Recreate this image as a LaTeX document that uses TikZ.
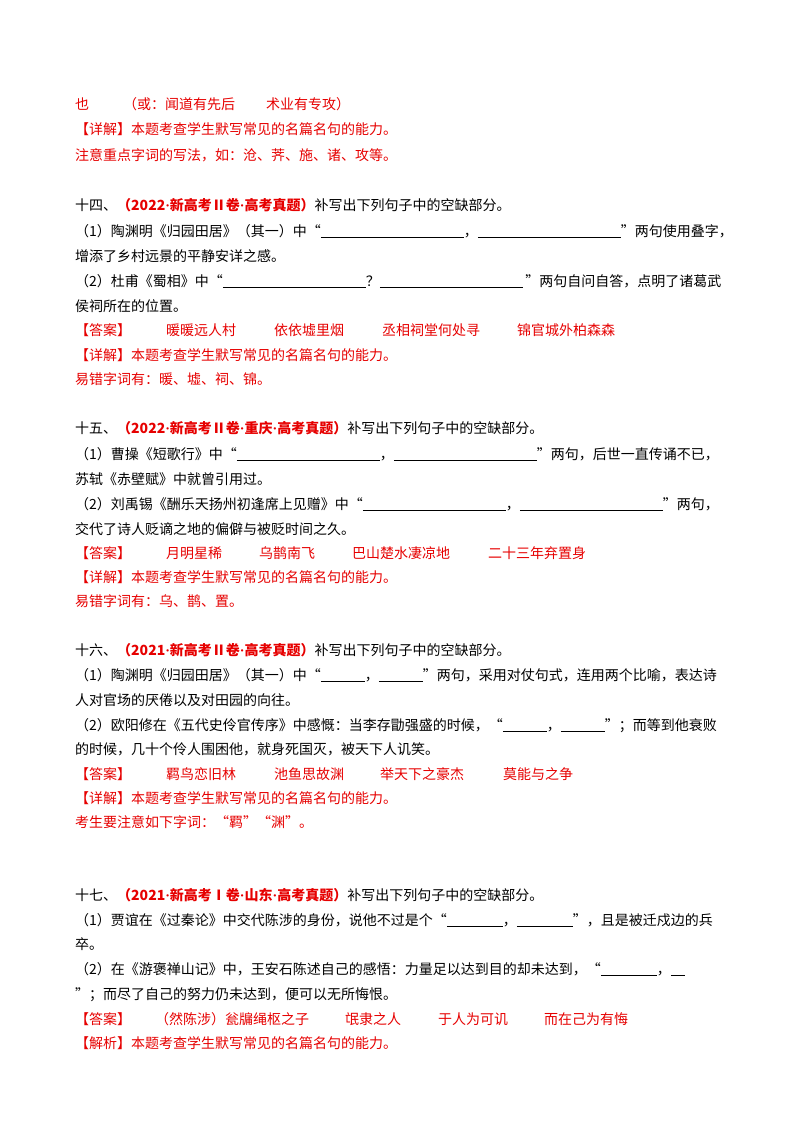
\documentclass[tikz,border=0pt]{standalone}
\usepackage{fontspec}
\setmainfont{Noto Sans CJK SC}
\newfontfamily\lat{Liberation Serif}
\definecolor{ans}{RGB}{230,0,0}
\newcommand{\bl}[1]{\underline{\hspace{#1pt}}}
\newcommand{\dt}{{\lat ·}}
\newcommand{\hd}[1]{\textcolor{ans}{\textbf{#1}}}
\begin{document}
\begin{tikzpicture}[x=1pt,y=-1pt,
  t/.style={anchor=base west,inner sep=0pt,font=\fontsize{14}{16}\selectfont},
  r/.style={t,text=ans}]
\useasboundingbox (0,0) rectangle (800,1132);
\node[r] (a1) at (75,109) {也};
\node[r] (a2) at (123,109) {（或：闻道有先后};
\node[r] (a3) at (266,109) {术业有专攻）};
\node[r] (a4) at (75,134) {【详解】本题考查学生默写常见的名篇名句的能力。};
\node[r] (a5) at (75,160) {注意重点字词的写法，如：沧、荠、施、诸、攻等。};
% 14
\node[t] (b1) at (75,210) {十四、\hd{（2022\dt 新高考Ⅱ卷\dt 高考真题）}补写出下列句子中的空缺部分。};
\node[t] (b2) at (75,236) {（1）陶渊明《归园田居》（其一）中“\bl{143}，\bl{143}”两句使用叠字，};
\node[t] (b3) at (75,261) {增添了乡村远景的平静安详之感。};
\node[t] (b4) at (75,286) {（2）杜甫《蜀相》中“\bl{143}？\bl{143}\,”两句自问自答，点明了诸葛武};
\node[t] (b5) at (75,311) {侯祠所在的位置。};
\node[r] (b6) at (75,335) {【答案】};
\node[r] (b7) at (166,335) {暖暖远人村};
\node[r] (b8) at (274,335) {依依墟里烟};
\node[r] (b9) at (382,335) {丞相祠堂何处寻};
\node[r] (b10) at (517,335) {锦官城外柏森森};
\node[r] (b11) at (75,360) {【详解】本题考查学生默写常见的名篇名句的能力。};
\node[r] (b12) at (75,384) {易错字词有：暖、墟、祠、锦。};
% 15
\node[t] (c1) at (75,433) {十五、\hd{（2022\dt 新高考Ⅱ卷\dt 重庆\dt 高考真题）}补写出下列句子中的空缺部分。};
\node[t] (c2) at (75,459) {（1）曹操《短歌行》中“\bl{143}，\bl{143}”两句，后世一直传诵不已，};
\node[t] (c3) at (75,484) {苏轼《赤壁赋》中就曾引用过。};
\node[t] (c4) at (75,509) {（2）刘禹锡《酬乐天扬州初逢席上见赠》中“\bl{143}，\bl{143}”两句，};
\node[t] (c5) at (75,534) {交代了诗人贬谪之地的偏僻与被贬时间之久。};
\node[r] (c6) at (75,558) {【答案】};
\node[r] (c7) at (166,558) {月明星稀};
\node[r] (c8) at (259,558) {乌鹊南飞};
\node[r] (c9) at (352,558) {巴山楚水凄凉地};
\node[r] (c10) at (488,558) {二十三年弃置身};
\node[r] (c11) at (75,582) {【详解】本题考查学生默写常见的名篇名句的能力。};
\node[r] (c12) at (75,606) {易错字词有：乌、鹊、置。};
% 16
\node[t] (d1) at (75,655) {十六、\hd{（2021\dt 新高考Ⅱ卷\dt 高考真题）}补写出下列句子中的空缺部分。};
\node[t] (d2) at (75,680) {（1）陶渊明《归园田居》（其一）中“\bl{44}，\bl{44}”两句，采用对仗句式，连用两个比喻，表达诗};
\node[t] (d3) at (75,705) {人对官场的厌倦以及对田园的向往。};
\node[t] (d4) at (75,730) {（2）欧阳修在《五代史伶官传序》中感慨：当李存勖强盛的时候，“\bl{44}，\bl{44}”；而等到他衰败};
\node[t] (d5) at (75,754) {的时候，几十个伶人围困他，就身死国灭，被天下人讥笑。};
\node[r] (d6) at (75,779) {【答案】};
\node[r] (d7) at (166,779) {羁鸟恋旧林};
\node[r] (d8) at (274,779) {池鱼思故渊};
\node[r] (d9) at (380,779) {举天下之豪杰};
\node[r] (d10) at (503,779) {莫能与之争};
\node[r] (d11) at (75,803) {【详解】本题考查学生默写常见的名篇名句的能力。};
\node[r] (d12) at (75,827) {考生要注意如下字词：“羁”“渊”。};
% 17
\node[t] (e1) at (75,900) {十七、\hd{（2021\dt 新高考Ⅰ卷\dt 山东\dt 高考真题）}补写出下列句子中的空缺部分。};
\node[t] (e2) at (75,925) {（1）贾谊在《过秦论》中交代陈涉的身份，说他不过是个“\bl{56}，\bl{56}”，且是被迁戍边的兵};
\node[t] (e3) at (75,949) {卒。};
\node[t] (e4) at (75,974) {（2）在《游褒禅山记》中，王安石陈述自己的感悟：力量足以达到目的却未达到，“\bl{56}，\bl{14}};
\node[t] (e5) at (75,999) {”；而尽了自己的努力仍未达到，便可以无所悔恨。};
\node[r] (e6) at (75,1024) {【答案】};
\node[r] (e7) at (155,1024) {（然陈涉）瓮牖绳枢之子};
\node[r] (e8) at (345,1024) {氓隶之人};
\node[r] (e9) at (438,1024) {于人为可讥};
\node[r] (e10) at (544,1024) {而在己为有悔};
\node[r] (e11) at (75,1048) {【解析】本题考查学生默写常见的名篇名句的能力。};
\end{tikzpicture}
\end{document}
